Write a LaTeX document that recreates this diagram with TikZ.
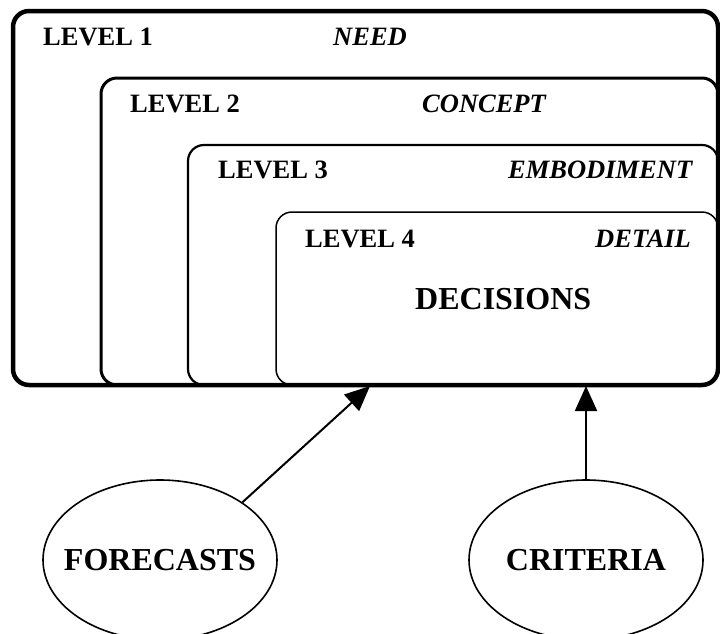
\documentclass[tikz,border=0pt]{standalone}
\usepackage{fontspec}
\setmainfont{Liberation Serif}
\usetikzlibrary{arrows.meta,shapes.geometric}
\begin{document}
\begin{tikzpicture}[x=1pt,y=-1pt,
  levelbox/.style={draw=black,rounded corners=16pt},
  lab/.style={anchor=base west,inner sep=0pt,font=\fontsize{26.5}{30}\selectfont\bfseries},
  ilab/.style={anchor=base west,inner sep=0pt,font=\fontsize{26.5}{30}\selectfont\bfseries\itshape},
  big/.style={font=\fontsize{32}{36}\selectfont\bfseries},
  oval/.style={draw=black,ellipse,line width=1.6pt,minimum width=234pt,minimum height=160pt,inner sep=0pt},
  ovaltext/.style={font=\fontsize{32}{36}\selectfont\bfseries,inner sep=0pt},
  arr/.style={line width=2pt,-{Triangle[length=25pt,width=22pt]}}]
\useasboundingbox (0,0) rectangle (720,633);
% level boxes
\draw[levelbox,line width=4.5pt] (13,11) rectangle (718,385);
\draw[levelbox,line width=3pt] (101,78) rectangle (718,385);
\draw[levelbox,line width=2.2pt] (188,145) rectangle (718,385);
\draw[levelbox,line width=1.5pt] (276,212) rectangle (718,385);
% labels
\node[lab] (l1) at (43,45) {LEVEL 1};
\node[ilab] (n1) at (333,45) {NEED};
\node[lab] (l2) at (130,112) {LEVEL 2};
\node[ilab] (n2) at (422,112) {CONCEPT};
\node[lab] (l3) at (218,178) {LEVEL 3};
\node[ilab] (n3) at (508,178) {EMBODIMENT};
\node[lab] (l4) at (305,247) {LEVEL 4};
\node[ilab] (n4) at (595,247) {DETAIL};
\node[big,anchor=base west,inner sep=0pt] (dec) at (415,309) {DECISIONS};
% ovals
\node[oval] (fore) at (160,560) {};
\node[ovaltext] (foret) at (fore.center) {FORECASTS};
\node[oval] (crit) at (586,560) {};
\node[ovaltext] (critt) at (crit.center) {CRITERIA};
\coordinate (ft) at (370,386);
\coordinate (ct) at (586,386);
\draw[arr] (fore.35) -- (ft);
\draw[arr] (crit) -- (ct);
\end{tikzpicture}
\end{document}
